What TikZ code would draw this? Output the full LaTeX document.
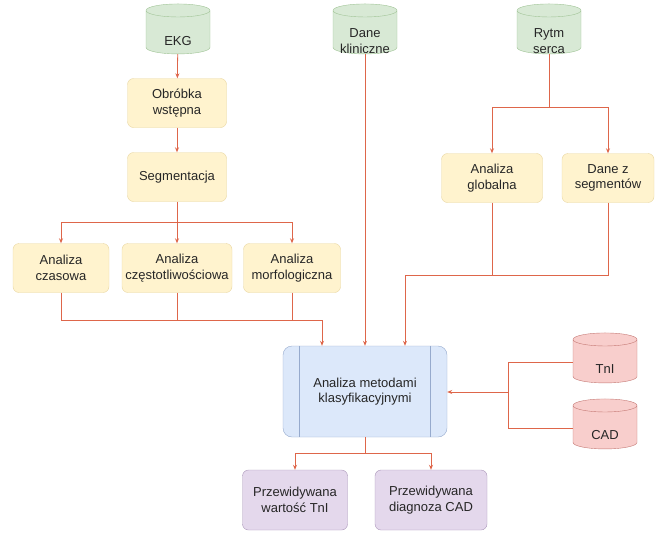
\documentclass[tikz,border=0pt]{standalone}
\usepackage{fontspec}
\setmainfont{Liberation Sans}
\usepackage{xcolor}
\usepackage{tikz}
\usetikzlibrary{shapes.geometric, arrows.meta}

\definecolor{lnRed}{RGB}{222,102,74}
\definecolor{ylwFill}{RGB}{255,243,206}
\definecolor{ylwDraw}{RGB}{232,214,160}
\definecolor{grnFill}{RGB}{216,233,213}
\definecolor{grnDraw}{RGB}{160,196,150}
\definecolor{bluFill}{RGB}{220,232,250}
\definecolor{bluDraw}{RGB}{150,170,205}
\definecolor{redFill}{RGB}{248,206,204}
\definecolor{redDraw}{RGB}{196,120,116}
\definecolor{purFill}{RGB}{228,216,236}
\definecolor{purDraw}{RGB}{170,150,185}

\tikzset{
  txt/.style={font=\fontsize{13}{15.5}\selectfont, text=black!85, align=center, inner sep=0.75pt},
  stepbox/.style={txt, rectangle, rounded corners=6pt, fill=ylwFill, draw=ylwDraw, minimum height=49pt},
  outbox/.style={txt, rectangle, rounded corners=6pt, fill=purFill, draw=purDraw, minimum height=60pt},
  % drum with a blank body, its caption is set as a node of its own
  datadb/.style={txt, cylinder, shape border rotate=90, aspect=0.45, minimum height=50pt,
    minimum width=64pt},
  arr/.style={draw=lnRed, line width=0.8pt, -{Stealth[length=5pt,width=4pt]}},
  ln/.style={draw=lnRed, line width=0.8pt}
}

\begin{document}
\begin{tikzpicture}[x=1pt,y=1pt,yscale=-1]
\useasboundingbox (0,0) rectangle (661,533);

%Shape: Cylinders (inputs)
\node[datadb, fill=grnFill, draw=grnDraw] (ekg) at (178,33) {\phantom{EKG}};
\node[datadb, fill=grnFill, draw=grnDraw] (klin) at (365,33) {\phantom{EKG}};
\node[datadb, fill=grnFill, draw=grnDraw] (rytm) at (549,33) {\phantom{EKG}};
\node[datadb, fill=redFill, draw=redDraw] (tni) at (605,362) {\phantom{EKG}};
\node[datadb, fill=redFill, draw=redDraw] (cad) at (605,428) {\phantom{EKG}};

% Text Node
\node[txt] (ekgT) at (178,41) {EKG};
\node[txt] (klinT) at (365,41) {Dane\\kliniczne};
\node[txt] (rytmT) at (549,41) {Rytm\\serca};
\node[txt] (tniT) at (605,369) {TnI};
\node[txt] (cadT) at (605,435) {CAD};

%Shape: Processing steps
\node[stepbox, minimum width=99pt] (obr) at (177,103) {Obróbka\\wstępna};
\node[stepbox, minimum width=99pt] (seg) at (177,177) {Segmentacja};
\node[stepbox, minimum width=96pt] (czas) at (61,268) {Analiza\\czasowa};
\node[stepbox, minimum width=110pt] (czest) at (177,268) {Analiza\\częstotliwościowa};
\node[stepbox, minimum width=97pt] (morf) at (292,268) {Analiza\\morfologiczna};
\node[stepbox, minimum width=101pt] (glob) at (492,178) {Analiza\\globalna};
\node[stepbox, minimum width=92pt] (segm) at (608,178) {Dane z\\segmentów};

%Shape: Classifier block
\node[txt, rectangle, rounded corners=9pt, fill=bluFill, draw=bluDraw,
  minimum width=164pt, minimum height=91pt] (klas) at (365,391.5)
  {Analiza metodami\\klasyfikacyjnymi};
\draw[bluDraw] ([xshift=16pt]klas.north west) -- ([xshift=16pt]klas.south west);
\draw[bluDraw] ([xshift=-17pt]klas.north east) -- ([xshift=-17pt]klas.south east);

%Shape: Results
\node[outbox, minimum width=105pt] (wyn1) at (295,500) {Przewidywana\\wartość TnI};
\node[outbox, minimum width=112pt] (wyn2) at (431,500) {Przewidywana\\diagnoza CAD};

%Junctions
\coordinate (segJ) at (177,222);
\coordinate (rytmJ) at (549,107);
\coordinate (anJ) at (322,320);
\coordinate (rtJ) at (405,275);
\coordinate (dbJ) at (508,392);
\coordinate (outJ) at (365,453);

%Straight Lines
\draw[arr] (ekg) -- (obr);
\draw[arr] (obr) -- (seg);
\draw[ln] (seg) -- (segJ);
\draw[arr] (segJ) -| (czas);
\draw[arr] (segJ) -- (czest);
\draw[arr] (segJ) -| (morf);

\draw[ln] (rytm) -- (rytmJ);
\draw[arr] (rytmJ) -| (glob);
\draw[arr] (rytmJ) -| (segm);

\draw[ln] (czas) |- (anJ);
\draw[ln] (czest) |- (anJ);
\draw[ln] (morf) |- (anJ);
\draw[arr] (anJ) -- (anJ |- klas.north);

\draw[arr] (klin) -- (klas);

\draw[ln] (glob) |- (rtJ);
\draw[ln] (segm) |- (rtJ);
\draw[arr] (rtJ) -- (rtJ |- klas.north);

\draw[ln] (tni) -| (dbJ);
\draw[ln] (cad) -| (dbJ);
\draw[arr] (dbJ) -- (dbJ -| klas.east);

\draw[ln] (klas) -- (outJ);
\draw[arr] (outJ) -| (wyn1);
\draw[arr] (outJ) -| (wyn2);

\end{tikzpicture}
\end{document}
